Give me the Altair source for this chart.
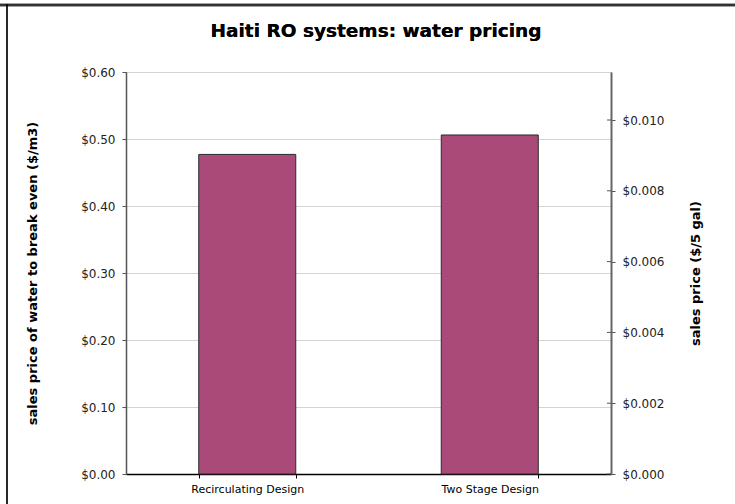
import altair as alt
import pandas as pd

# Break-even water price for each RO system design
designs = ["Recirculating Design", "Two Stage Design"]
price_per_m3 = [0.477, 0.506]

# Left axis ticks ($/m3) and right axis ticks ($ per 5 gallons)
m3_ticks = [0.0, 0.1, 0.2, 0.3, 0.4, 0.5, 0.6]
gal5_ticks = [0.0, 0.002, 0.004, 0.006, 0.008, 0.010]

CHART_TITLE = "Haiti RO systems: water pricing"

M3_PER_5GAL = 0.018927  # 5 US gallons expressed in cubic metres
Y_MAX = 0.6

FONT = "DejaVu Sans"
PLOT_W, PLOT_H = 485, 402

bars_df = pd.DataFrame({"design": designs, "price": price_per_m3})
ticks_df = pd.DataFrame({"gal": gal5_ticks})

x_enc = alt.X(
    "design:N",
    sort=designs,
    title=None,
    scale=alt.Scale(paddingInner=0.6, paddingOuter=0.3),
    axis=alt.Axis(
        tickBand="extent",
        labelAngle=0,
        labelFont=FONT,
        labelFontSize=11,
        labelColor="#000000",
        labelPadding=5,
        tickSize=4,
        tickColor="#000000",
        domainColor="#000000",
        domainWidth=1.5,
        grid=False,
    ),
)

bars = alt.Chart(bars_df).mark_bar(
    color="#AA4A79", stroke="#2a2a2a", strokeWidth=1
).encode(
    x=x_enc,
    y=alt.Y(
        "price:Q",
        scale=alt.Scale(domain=[0, Y_MAX], nice=False, zero=True),
        axis=alt.Axis(
            orient="left",
            values=m3_ticks,
            format="$.2f",
            labelFont=FONT,
            labelFontSize=12,
            labelColor="#222222",
            labelPadding=7,
            tickSize=4,
            tickColor="#555555",
            domainColor="#555555",
            domainWidth=1.5,
            grid=True,
            gridColor="#d4d4d4",
            gridWidth=1,
            title="sales price of water to break even ($/m3)",
            titleFont=FONT,
            titleFontSize=13,
            titleFontWeight="bold",
            titleColor="#000000",
            titleAngle=270,
            titleX=-94,
            titleY=PLOT_H / 2,
            titleAlign="center",
            titleBaseline="middle",
        ),
    ),
)

# Right-hand scale in $ per 5 gallons; short rules give the inner half of each tick
right = alt.Chart(ticks_df).mark_rule(color="#555555", strokeWidth=1).encode(
    y=alt.Y(
        "gal:Q",
        scale=alt.Scale(domain=[0, Y_MAX * M3_PER_5GAL], nice=False, zero=True),
        axis=alt.Axis(
            orient="right",
            values=gal5_ticks,
            format="$.3f",
            labelFont=FONT,
            labelFontSize=12,
            labelColor="#222222",
            labelPadding=7,
            tickSize=4,
            tickColor="#555555",
            domainColor="#666666",
            domainWidth=2,
            grid=False,
            title="sales price ($/5 gal)",
            titleFont=FONT,
            titleFontSize=13,
            titleFontWeight="bold",
            titleColor="#000000",
            titleAngle=270,
            titleX=84,
            titleY=PLOT_H / 2,
            titleAlign="center",
            titleBaseline="middle",
        ),
    ),
    x=alt.value(PLOT_W - 4),
    x2=alt.value(PLOT_W),
)

# Chart title, centred over the chart area
title = alt.Chart(bars_df).mark_text(
    font=FONT, fontSize=18.5, fontWeight="bold", color="#000000",
    align="center", baseline="alphabetic",
).encode(
    text=alt.value(CHART_TITLE), x=alt.value(250), y=alt.value(-35)
)

# Chart-area frame: heavy top edge and thin left edge
frame_top = alt.Chart(bars_df).mark_rule(color="#333333", strokeWidth=2.5).encode(
    x=alt.value(-126), x2=alt.value(640), y=alt.value(-67)
)
frame_left = alt.Chart(bars_df).mark_rule(color="#000000", strokeWidth=1.2).encode(
    x=alt.value(-119), y=alt.value(-68), y2=alt.value(440)
)

chart = (
    alt.layer(bars, right, title, frame_top, frame_left)
    .resolve_scale(y="independent")
    .properties(
        width=PLOT_W,
        height=PLOT_H,
        autosize=alt.AutoSizeParams(type="none"),
        padding={"left": 126, "top": 72, "right": 124, "bottom": 30},
        background="#ffffff",
    )
    .configure_view(stroke="#888888", strokeWidth=1)
)

chart.save("out.html", embed_options={"renderer": "svg", "actions": False})
